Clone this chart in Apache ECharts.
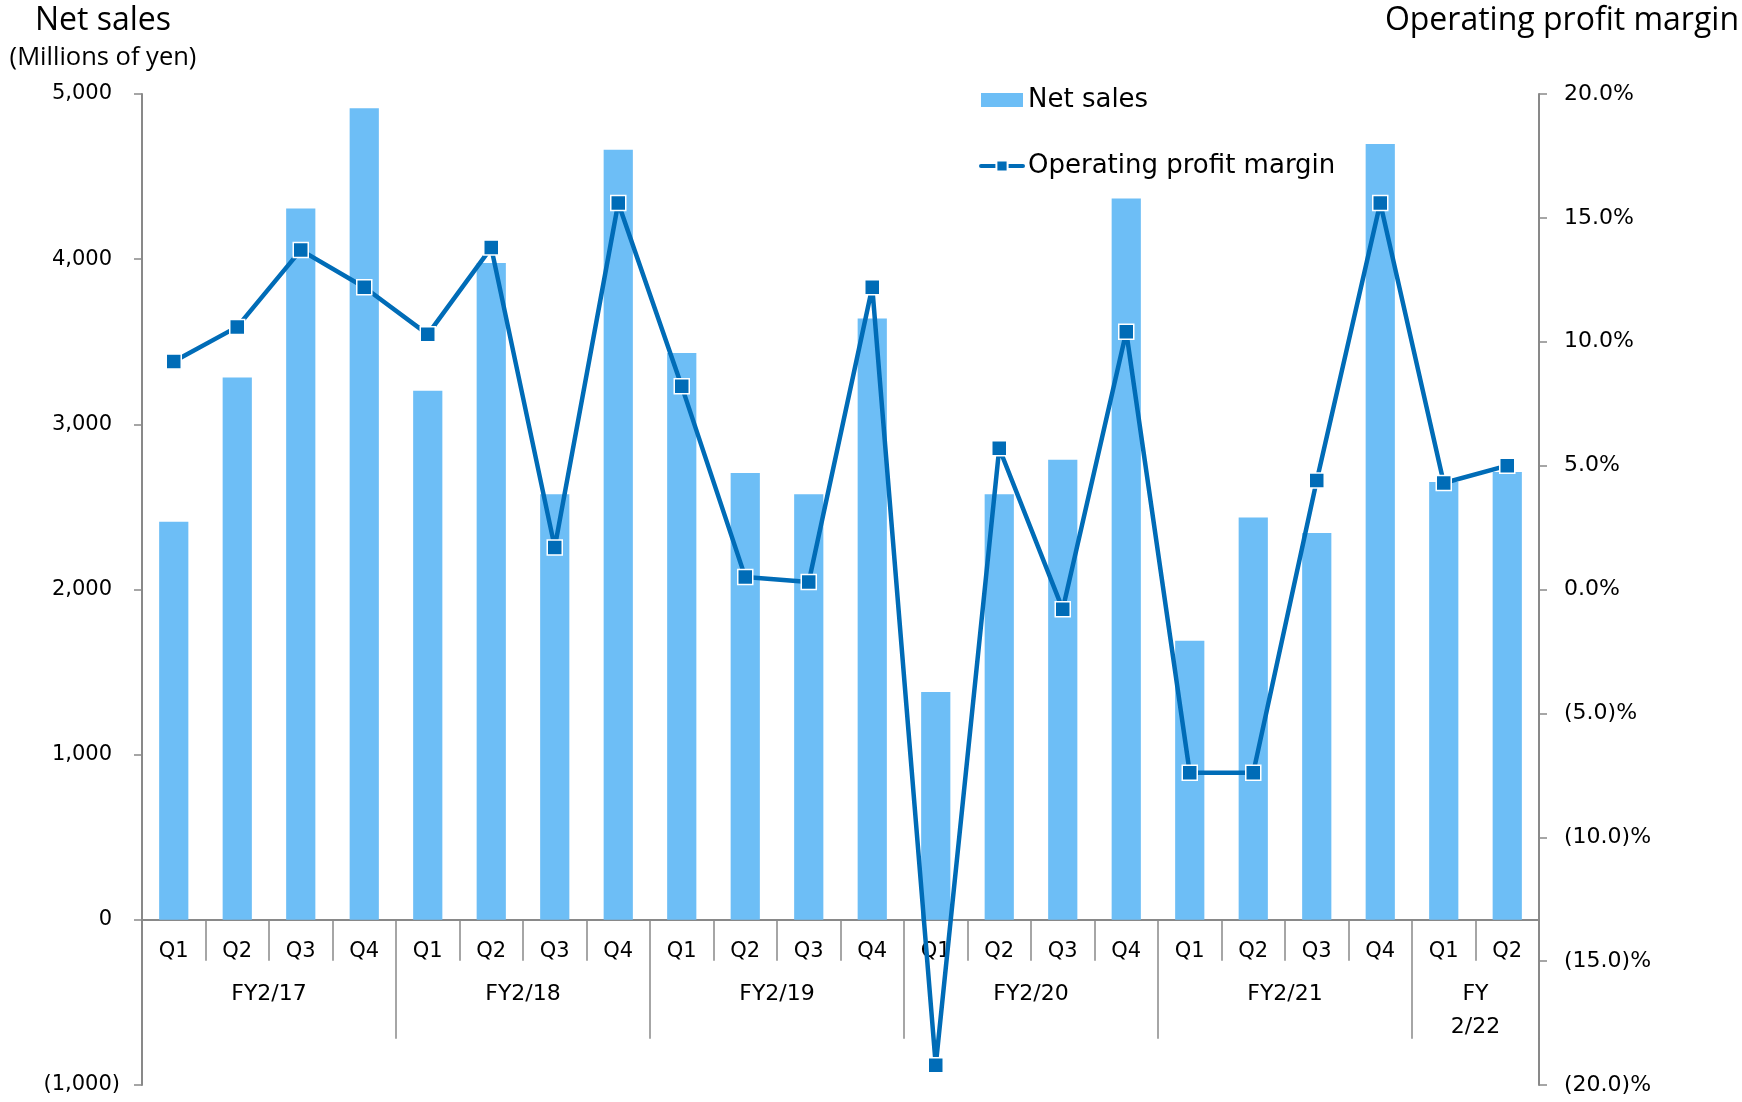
<!DOCTYPE html>
<html>
<head>
<meta charset="utf-8">
<script src="https://cdn.jsdelivr.net/npm/echarts@6/dist/echarts.min.js"></script>
<style>
  html, body { margin: 0; padding: 0; background: #fff; }
  #chart { width: 1742px; height: 1102px; }
</style>
</head>
<body>
<div id="chart"></div>
<script>
// quarters along the bottom
var quarters = ['Q1','Q2','Q3','Q4','Q1','Q2','Q3','Q4','Q1','Q2','Q3','Q4',
                'Q1','Q2','Q3','Q4','Q1','Q2','Q3','Q4','Q1','Q2'];
// fiscal-year groups and how many quarters each one spans
var fiscalYears = ['FY2/17','FY2/18','FY2/19','FY2/20','FY2/21','FY\n2/22'];
var fySpans = [4, 4, 4, 4, 4, 2];

// net sales, millions of yen
var netSales = [2410, 3284, 4307, 4913,
                3203, 3977, 2577, 4663,
                3432, 2705, 2577, 3641,
                1380, 2577, 2786, 4367,
                1689, 2436, 2342, 4697,
                2651, 2712];
// operating profit margin, %
var opMargin = [9.2, 10.6, 13.7, 12.2,
                10.3, 13.8, 1.7, 15.6,
                8.2, 0.5, 0.3, 12.2,
                -19.2, 5.7, -0.8, 10.4,
                -7.4, -7.4, 4.4, 15.6,
                4.3, 5.0];

var salesTicks = { min: -1000, max: 5000, interval: 1000 };
var marginTicks = { min: -20, max: 20, interval: 5 };

// half-quarter grid for the fiscal-year level (labels at group centres, ticks at group edges)
var fyCats = [], fyLabelAt = {}, fyTickAt = {0: true};
(function () {
  var pos = 0;
  for (var i = 0; i < fySpans.length; i++) {
    fyLabelAt[pos + fySpans[i]] = fiscalYears[i];
    pos += fySpans[i] * 2;
    fyTickAt[pos] = true;
  }
  for (var k = 0; k <= pos; k++) fyCats.push(fyLabelAt[k] || '');
})();

// accounting style: negatives in brackets, positives keep room for the bracket
function fmtSales(v) {
  var s = Math.abs(v).toString().replace(/\B(?=(\d{3})+(?!\d))/g, ',');
  return v < 0 ? '(' + s + ')' : '{p|' + s + '}';
}
function fmtMargin(v) {
  var s = Math.abs(v).toFixed(1);
  return v < 0 ? '(' + s + ')%' : s + '%';
}

var gridTop = 94, gridBottom = 17;
var plotH = 1102 - gridTop - gridBottom;
// category axis sits on the zero of the sales axis
var zeroOffset = -plotH * (0 - salesTicks.min) / (salesTicks.max - salesTicks.min);

var axisGray = '#898989';
var lineBlue = '#006CB7';
var dom = document.getElementById('chart');
var myChart = echarts.init(dom);
var option = {
  backgroundColor: '#fff',
  animation: false,
  title: [
    { text: 'Net sales', left: 98, top: 0, textAlign: 'center',
      textStyle: { fontFamily: 'Open Sans', fontSize: 32, fontWeight: 'normal', color: '#000' } },
    { text: '(Millions of yen)', left: 98, top: 40, textAlign: 'center',
      textStyle: { fontFamily: 'Open Sans', fontSize: 25.5, fontWeight: 'normal', color: '#000' } },
    { text: 'Operating profit margin', right: 3, top: 5, padding: 0,
      textStyle: { fontFamily: 'Open Sans', fontSize: 32, fontWeight: 'normal', color: '#000' } }
  ],
  legend: {
    orient: 'vertical',
    left: 974,
    top: 82,
    itemWidth: 42,
    itemHeight: 14,
    itemGap: 40,
    lineStyle: { width: 4, cap: 'round' },
    textStyle: { fontFamily: 'DejaVu Sans', fontSize: 26, color: '#000' },
    data: [
      { name: 'Net sales', icon: 'rect' },
      { name: 'Operating profit margin' }
    ]
  },
  grid: { left: 142, right: 203, top: gridTop, bottom: gridBottom, containLabel: false, outerBoundsMode: 'none' },
  xAxis: [
    {
      type: 'category',
      position: 'bottom',
      offset: zeroOffset,
      data: quarters,
      axisLine: { onZero: false, lineStyle: { color: axisGray, width: 2 } },
      axisTick: { show: true, length: 41, lineStyle: { color: axisGray, width: 1.5 } },
      axisLabel: { interval: 0, margin: 20, lineHeight: 24, verticalAlign: 'top',
                   fontFamily: 'DejaVu Sans', fontSize: 21, color: '#000' }
    },
    {
      type: 'category',
      position: 'bottom',
      offset: zeroOffset,
      boundaryGap: false,
      data: fyCats,
      axisLine: { show: false, onZero: false },
      axisTick: {
        show: true, length: 119,
        interval: function (idx) { return !!fyTickAt[idx]; },
        lineStyle: { color: axisGray, width: 1.5 }
      },
      axisLabel: {
        interval: function (idx) { return !!fyLabelAt[idx]; },
        margin: 58, lineHeight: 33,
        verticalAlign: 'top',
        fontFamily: 'DejaVu Sans', fontSize: 22, color: '#000'
      }
    }
  ],
  yAxis: [
    {
      type: 'value',
      min: salesTicks.min, max: salesTicks.max, interval: salesTicks.interval,
      splitLine: { show: false },
      axisLine: { show: true, onZero: false, lineStyle: { color: axisGray, width: 2 } },
      axisTick: { show: true, length: 8, lineStyle: { color: axisGray, width: 1.5 } },
      axisLabel: {
        formatter: fmtSales, margin: 22, fontFamily: 'DejaVu Sans', fontSize: 21, color: '#000',
        rich: { p: { fontFamily: 'DejaVu Sans', fontSize: 21, color: '#000', padding: [0, 8, 0, 0] } }
      }
    },
    {
      type: 'value',
      position: 'right',
      min: marginTicks.min, max: marginTicks.max, interval: marginTicks.interval,
      splitLine: { show: false },
      axisLine: { show: true, onZero: false, lineStyle: { color: axisGray, width: 2 } },
      axisTick: { show: true, length: 8, lineStyle: { color: axisGray, width: 1.5 } },
      axisLabel: { formatter: fmtMargin, margin: 25, fontFamily: 'DejaVu Sans', fontSize: 22, color: '#000' }
    }
  ],
  series: [
    {
      name: 'Net sales',
      type: 'bar',
      data: netSales,
      barWidth: '46%',
      itemStyle: { color: '#6DBEF6' }
    },
    {
      name: 'Operating profit margin',
      type: 'line',
      yAxisIndex: 1,
      data: opMargin,
      symbol: 'rect',
      symbolSize: 15,
      lineStyle: { color: lineBlue, width: 4.5 },
      itemStyle: { color: lineBlue, borderColor: '#fff', borderWidth: 1.5 }
    }
  ]
};
myChart.setOption(option);
</script>
</body>
</html>
